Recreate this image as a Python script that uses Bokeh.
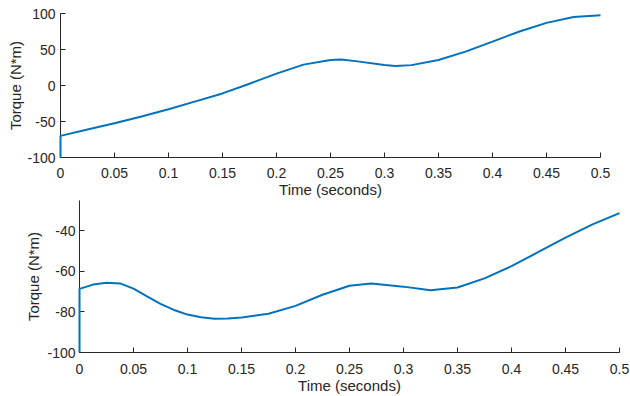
from bokeh.plotting import figure
from bokeh.layouts import column
from bokeh.models import FixedTicker, CustomJSTickFormatter, Range1d
from bokeh.embed import file_html
from bokeh.resources import INLINE

# ---- data ----
time_top = [0, 0, 0.025, 0.05, 0.075, 0.1, 0.125, 0.15, 0.175, 0.2, 0.225, 0.25, 0.26,
            0.275, 0.3, 0.31, 0.325, 0.35, 0.375, 0.4, 0.425, 0.45, 0.475, 0.5]
torque_top = [-100, -70, -61, -52.5, -43, -33, -22, -11, 2.5, 16.5, 29, 35.5, 36,
              33.5, 28.5, 27, 28.3, 35.5, 47, 61, 75, 87, 95, 97.5]

time_bot = [0, 0, 0.0125, 0.025, 0.0375, 0.05, 0.0625, 0.075, 0.0875, 0.1, 0.1125, 0.125,
            0.1375, 0.15, 0.175, 0.2, 0.225, 0.25, 0.27, 0.3, 0.325, 0.35, 0.375, 0.4,
            0.425, 0.45, 0.475, 0.5]
torque_bot = [-100, -68.6, -66.5, -65.6, -65.9, -68.5, -72.3, -76, -79, -81.3, -82.6, -83.3,
              -83.2, -82.7, -80.9, -77, -71.5, -67.1, -66, -67.5, -69.3, -67.9, -63.4, -57.4,
              -50.4, -43.3, -36.8, -31.2]

x_ticks = [0, 0.05, 0.1, 0.15, 0.2, 0.25, 0.3, 0.35, 0.4, 0.45, 0.5]
y_ticks_top = [-100, -50, 0, 50, 100]
y_ticks_bot = [-100, -80, -60, -40]

x_label = "Time (seconds)"
y_label = "Torque (N*m)"

LINE = "#0072BD"
AX = "#262626"
FONT = "Liberation Sans"


def style(p, yticks, x_std, x_als, y_std, y_als):
    p.xaxis.ticker = FixedTicker(ticks=x_ticks)
    p.yaxis.ticker = FixedTicker(ticks=yticks)
    fmt = "return String(tick);"
    p.xaxis.formatter = CustomJSTickFormatter(code=fmt)
    p.yaxis.formatter = CustomJSTickFormatter(code=fmt)
    for ax in (p.xaxis[0], p.yaxis[0]):
        ax.major_tick_in = 5
        ax.major_tick_out = 0
        ax.minor_tick_line_color = None
        ax.axis_line_color = AX
        ax.major_tick_line_color = AX
        ax.major_label_text_color = AX
        ax.major_label_text_font = FONT
        ax.major_label_text_font_size = "14px"
        ax.axis_label_text_font = FONT
        ax.axis_label_text_font_size = "15px"
        ax.axis_label_text_font_style = "normal"
        ax.axis_label_text_color = AX
    p.xaxis.axis_label = x_label
    p.yaxis.axis_label = y_label
    p.xaxis.major_label_standoff = x_std
    p.xaxis.axis_label_standoff = x_als
    p.yaxis.major_label_standoff = y_std
    p.yaxis.axis_label_standoff = y_als
    p.xgrid.grid_line_color = None
    p.ygrid.grid_line_color = None
    p.outline_line_color = None
    p.background_fill_color = "white"
    p.border_fill_color = "white"
    p.frame_align = False


p1 = figure(width=630, height=200, output_backend="svg", toolbar_location=None,
            x_range=Range1d(0, 0.5), y_range=Range1d(-100, 100),
            min_border_left=60, min_border_right=30, min_border_top=13, min_border_bottom=42)
style(p1, y_ticks_top, 10, 0, 5, 0)
p1.line(time_top, torque_top, line_color=LINE, line_width=2, level="overlay")

p2 = figure(width=630, height=196, output_backend="svg", toolbar_location=None,
            x_range=Range1d(0, 0.5), y_range=Range1d(-100, -25),
            min_border_left=79, min_border_right=11, min_border_top=0, min_border_bottom=42)
style(p2, y_ticks_bot, 11, 0, 4, 2)
p2.line(time_bot, torque_bot, line_color=LINE, line_width=2, level="overlay")

layout = column(p1, p2, spacing=0)
open("out.html", "w").write(file_html(layout, INLINE))
